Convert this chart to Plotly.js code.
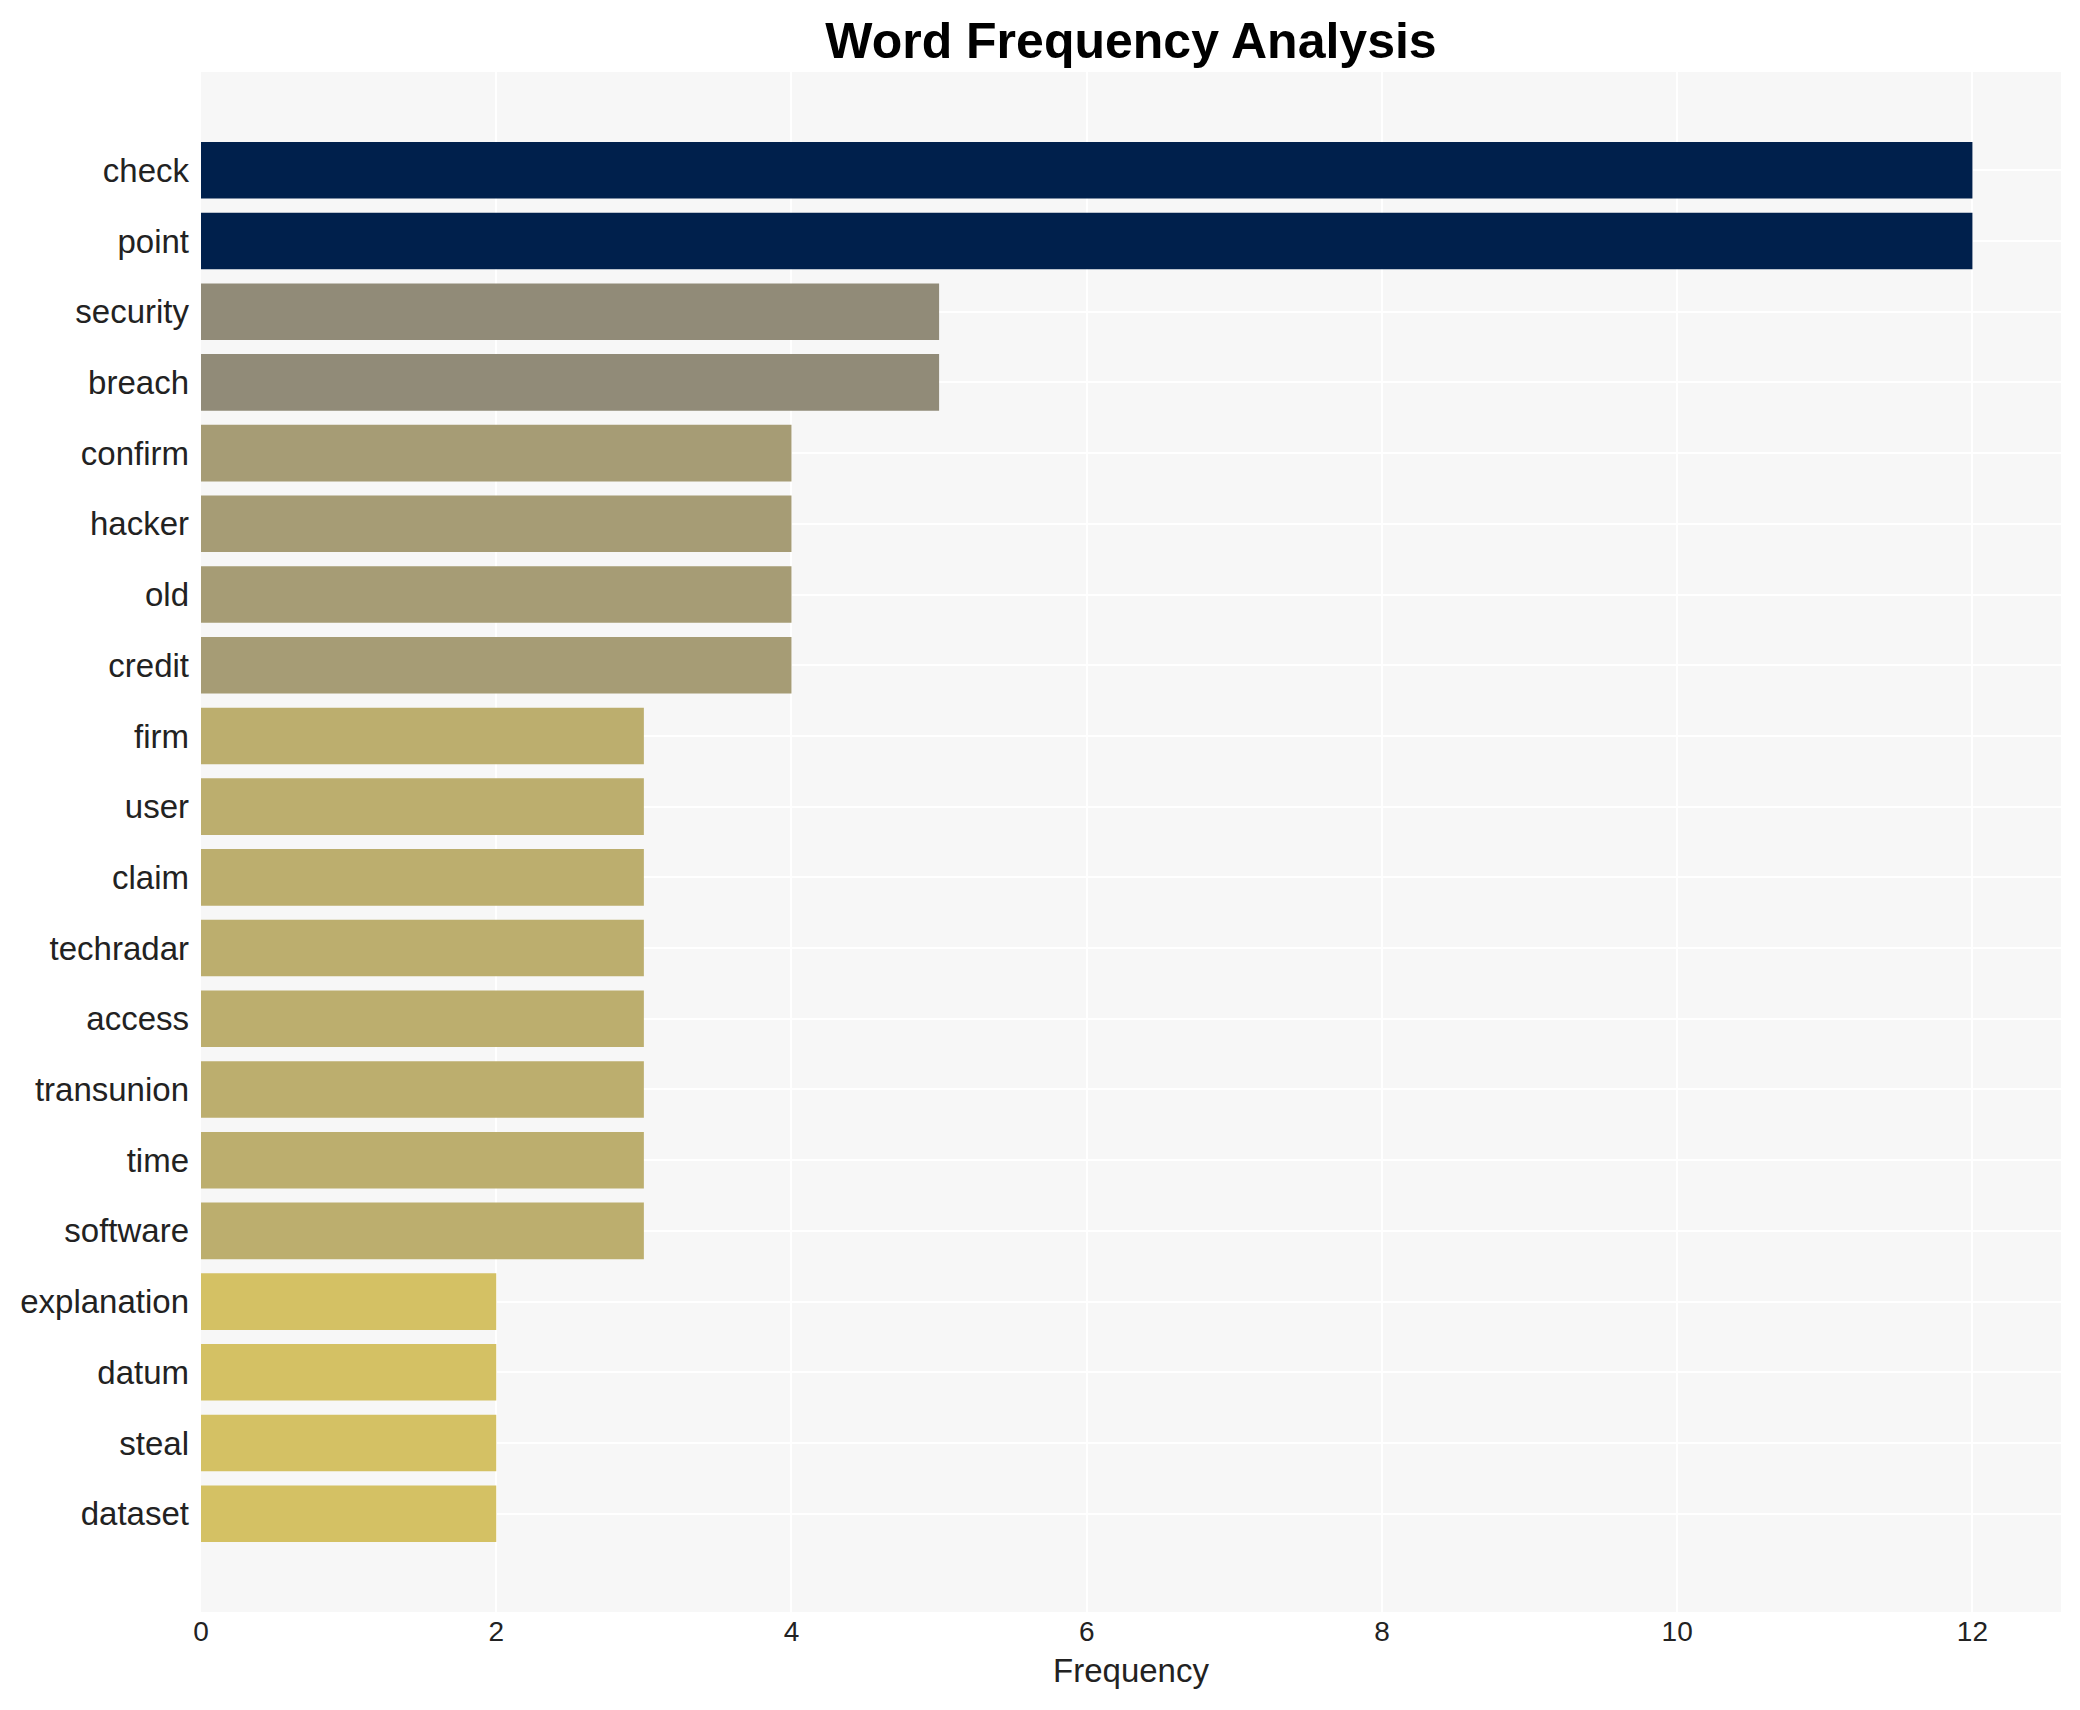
<!DOCTYPE html>
<html>
<head>
<meta charset="utf-8">
<script src="https://cdn.plot.ly/plotly-3.0.1.min.js"></script>
<style>html,body{margin:0;padding:0;background:#fff;}</style>
</head>
<body>
<div id="chart" style="width:2080px;height:1710px;"></div>
<script>
const words = ["check","point","security","breach","confirm","hacker","old","credit","firm","user","claim","techradar","access","transunion","time","software","explanation","datum","steal","dataset"];
const frequencies = [12,12,5,5,4,4,4,4,3,3,3,3,3,3,3,3,2,2,2,2];
const xTicks = [0,2,4,6,8,10,12];

const trace = {
  type: "bar",
  orientation: "h",
  x: frequencies,
  y: words,
  width: 0.8,
  marker: {
    color: frequencies,
    colorscale: "Cividis",
    reversescale: true,
    cmin: 0,
    cmax: 12,
    line: {width: 0}
  },
  hoverinfo: "x+y"
};

const layout = {
  width: 2080,
  height: 1710,
  margin: {l: 201, r: 19, t: 72, b: 98, pad: 0},
  paper_bgcolor: "#ffffff",
  plot_bgcolor: "#f7f7f7",
  font: {family: "Liberation Sans, Arial, sans-serif", color: "#222222"},
  title: {
    text: "<b>Word Frequency Analysis</b>",
    font: {family: "Liberation Sans, Arial, sans-serif", size: 50, color: "#000000"},
    x: 0.5, xref: "paper", xanchor: "center",
    y: 1 - 40/1710, yref: "container", yanchor: "middle"
  },
  xaxis: {
    range: [0, 12.6],
    tickvals: xTicks,
    ticktext: xTicks.map(String),
    tickfont: {size: 28, color: "#222222"},
    showgrid: true,
    gridcolor: "#ffffff",
    gridwidth: 2,
    zeroline: false,
    showline: false,
    ticks: "",
    title: {text: "Frequency", font: {size: 33, color: "#222222"}, standoff: 12}
  },
  yaxis: {
    type: "category",
    categoryorder: "array",
    categoryarray: words,
    range: [20.39, -1.39],
    tickfont: {size: 33, color: "#222222"},
    showgrid: true,
    gridcolor: "#ffffff",
    gridwidth: 2,
    zeroline: false,
    showline: false,
    ticks: "",
    ticklabelstandoff: 11
  },
  showlegend: false,
  bargap: 0.2
};

Plotly.newPlot("chart", [trace], layout, {displayModeBar: false, staticPlot: true});
</script>
</body>
</html>
